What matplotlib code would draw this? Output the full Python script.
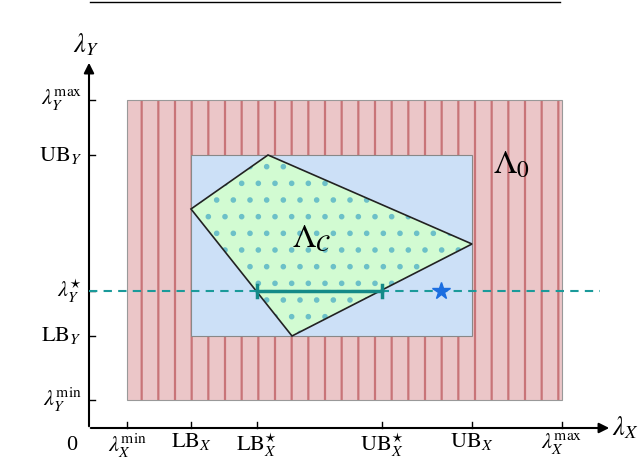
import matplotlib
matplotlib.use("Agg")
import matplotlib.pyplot as plt
from matplotlib.patches import Rectangle, Polygon

plt.rcParams['mathtext.fontset'] = 'stix'
plt.rcParams['font.family'] = ['Liberation Serif', 'DejaVu Serif']
plt.rcParams['hatch.linewidth'] = 1.6

# pixel-like coordinates (y measured upward from bottom of figure)
H = 462
xtick_pos = [127, 191, 257, 382, 472, 562]
xtick_lab = [r'$\lambda_X^{\min}$', r'$\mathrm{LB}_X$', r'$\mathrm{LB}_X^{\star}$',
             r'$\mathrm{UB}_X^{\star}$', r'$\mathrm{UB}_X$', r'$\lambda_X^{\max}$']
ytick_pix = [100, 155, 291, 336, 400]
ytick_lab = [r'$\lambda_Y^{\max}$', r'$\mathrm{UB}_Y$', r'$\lambda_Y^{\star}$',
             r'$\mathrm{LB}_Y$', r'$\lambda_Y^{\min}$']
outer = (127, 562, 100, 400)
inner = (191, 472, 155, 336)
poly_pix = [(191, 209), (268, 155), (472, 244), (292, 336)]
lam_y_star = 291
seg_x = (257, 382)
star_x = 441
origin = (89, 428)

fig = plt.figure(figsize=(6.4, 4.62), dpi=100)
ax = fig.add_axes([0, 0, 1, 1])
ax.set_xlim(0, 640); ax.set_ylim(0, H); ax.axis('off')
Y = lambda p: H - p

x0, x1, y0, y1 = outer
ax.add_patch(Rectangle((x0, Y(y1)), x1 - x0, y1 - y0, facecolor='#ebc6c8',
                       edgecolor='#c87478', hatch='|', lw=0, zorder=1))
ax.add_patch(Rectangle((x0, Y(y1)), x1 - x0, y1 - y0, fill=False, edgecolor='#999999', lw=0.8, zorder=1.5))
x0, x1, y0, y1 = inner
ax.add_patch(Rectangle((x0, Y(y1)), x1 - x0, y1 - y0, facecolor='#cce0f7',
                       edgecolor='#888888', lw=0.8, zorder=2))
ax.add_patch(Polygon([(px, Y(py)) for px, py in poly_pix], closed=True, facecolor='#d2fbd2',
                     edgecolor='#6cc0c8', hatch='.', lw=0, zorder=3))
ax.add_patch(Polygon([(px, Y(py)) for px, py in poly_pix], closed=True, fill=False,
                     edgecolor='#222222', lw=1.2, zorder=3.5))

ax.plot([origin[0], 600], [Y(lam_y_star)] * 2, ls=(0, (4, 3)), color='#1a9a9a', lw=1.5, zorder=4)
ax.plot(seg_x, [Y(lam_y_star)] * 2, color='#148a88', lw=2.5, zorder=5)
for sx in seg_x:
    ax.plot([sx, sx], [Y(lam_y_star) - 6, Y(lam_y_star) + 6], color='#148a88', lw=2.5, zorder=5)
ax.plot([star_x], [Y(lam_y_star)], marker='*', color='#1c6ee0', ms=13, zorder=6)

# axes
ax.annotate('', xy=(612, Y(origin[1])), xytext=(origin[0] - 1, Y(origin[1])),
            arrowprops=dict(arrowstyle='-|>', color='black', lw=1.5, mutation_scale=15))
ax.annotate('', xy=(origin[0], Y(60)), xytext=(origin[0], Y(origin[1]) - 1),
            arrowprops=dict(arrowstyle='-|>', color='black', lw=1.5, mutation_scale=15))
for xp, lab in zip(xtick_pos, xtick_lab):
    ax.plot([xp, xp], [Y(origin[1]), Y(origin[1]) + 6], color='black', lw=1)
    ax.text(xp, Y(431), lab, ha='center', va='top', fontsize=16)
for yp, lab in zip(ytick_pix, ytick_lab):
    ax.plot([origin[0], origin[0] + 6], [Y(yp), Y(yp)], color='black', lw=1)
    ax.text(origin[0] - 7, Y(yp), lab, ha='right', va='center', fontsize=16)
ax.text(72, Y(445), '0', ha='center', va='center', fontsize=16)
ax.text(612, Y(428), r'$\lambda_X$', ha='left', va='center', fontsize=19)
ax.text(73, Y(45), r'$\lambda_Y$', ha='left', va='center', fontsize=19)
ax.text(512, Y(165), r'$\Lambda_0$', ha='center', va='center', fontsize=24)
ax.text(312, Y(238), r'$\Lambda_{\mathcal{C}}$', ha='center', va='center', fontsize=24)
ax.plot([90, 560], [H - 2, H - 2], color='black', lw=1)

fig.savefig('out.png', dpi=100)
